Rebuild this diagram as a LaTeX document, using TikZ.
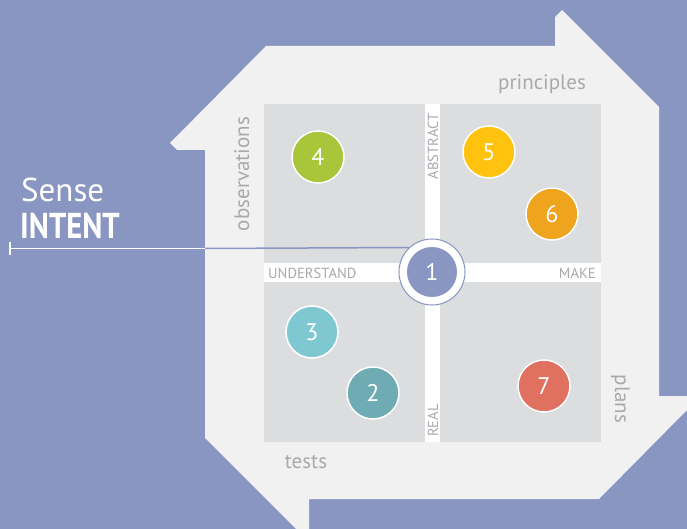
\documentclass[tikz,border=0pt]{standalone}
\usepackage{fontspec}
\setmainfont{PT Sans}
\newfontfamily\condfont[FakeStretch=0.85]{PT Sans}
\definecolor{bgblue}{HTML}{8A96C2}
\definecolor{lightbg}{HTML}{F1F1F1}
\definecolor{panel}{HTML}{DCDDDF}
\definecolor{txtgray}{HTML}{A7A9AC}
\definecolor{cfour}{HTML}{A9C539}
\definecolor{cfive}{HTML}{FFC20F}
\definecolor{csix}{HTML}{EEA41D}
\definecolor{cthree}{HTML}{80C8D1}
\definecolor{ctwo}{HTML}{6FABB3}
\definecolor{cseven}{HTML}{E07161}
\definecolor{cone}{HTML}{8A96C2}
\tikzset{
  num/.style={circle, draw=white, line width=1.5bp, minimum size=52bp, inner sep=0pt,
    text=white, font=\fontsize{24bp}{24bp}\selectfont},
  axislabel/.style={text=txtgray, inner sep=0pt, font=\fontsize{14.6bp}{14.6bp}\selectfont},
  sidelabel/.style={text=txtgray, inner sep=0pt, font=\fontsize{21bp}{21bp}\selectfont},
}
\begin{document}
\begin{tikzpicture}[x=1bp, y=-1bp]
\useasboundingbox (0,0) rectangle (687,529);
\fill[bgblue] (0,0) rectangle (687,529);
% outline arrow frame
\fill[lightbg] (296,529) -- (205,438) -- (205,150) -- (177,150) -- (170,143) -- (266,46)
  -- (555,46) -- (555,17) -- (562,10) -- (659,107) -- (659,396) -- (687,396) -- (687,410)
  -- (599,499) -- (309,499) -- (309,529) -- cycle;
% white cross and panels
\fill[white] (264,104) rectangle (601,442);
\fill[panel] (264,104) rectangle (425,263);
\fill[panel] (440,104) rectangle (601,263);
\fill[panel] (264,282) rectangle (425,442);
\fill[panel] (440,282) rectangle (601,442);
% axis labels
\node[axislabel, anchor=base west] (understand) at (268,278) {UNDERSTAND};
\node[axislabel, anchor=base east] (make) at (596,278) {MAKE};
\node[axislabel, rotate=90, anchor=base] (abstract) at (438,146.5) {ABSTRACT};
\node[axislabel, rotate=90, anchor=base west] (real) at (438,437) {REAL};
% side labels
\node[sidelabel, anchor=base] (principles) at (542,90) {principles};
\node[sidelabel, rotate=90, anchor=base] (observations) at (249,174) {observations};
\node[sidelabel, anchor=base] (tests) at (306,468) {tests};
\node[sidelabel, rotate=-90, anchor=base] (plans) at (615,399) {plans};
% circles
\node[num, fill=cfour] (n4) at (318,157) {4};
\node[num, fill=cfive] (n5) at (489,152) {5};
\node[num, fill=csix] (n6) at (552,214) {6};
\node[num, fill=cthree] (n3) at (312,332) {3};
\node[num, fill=ctwo] (n2) at (373,393) {2};
\node[num, fill=cseven] (n7) at (544,386) {7};
\node[circle, draw=cone, line width=1bp, fill=white, minimum size=66bp, inner sep=0pt] (ring) at (432,272) {};
\node[num, fill=cone, minimum size=50bp, draw=none] (n1) at (432,272) {1};
% Sense INTENT
\node[anchor=base west, text=white, inner sep=0pt, font=\fontsize{33bp}{33bp}\selectfont] (sense) at (21,202) {Sense};
\node[anchor=base west, text=white, inner sep=0pt, font=\condfont\bfseries\fontsize{36bp}{36bp}\selectfont] (intent) at (20,238.5) {INTENT};
\coordinate (lstart) at (10,248.5);
\coordinate (lmid) at (205,248.5);
\coordinate (ltop) at (10,242);
\coordinate (lbot) at (10,255);
\draw[white, line width=1.5bp] (ltop) -- (lbot);
\draw[white, line width=1.5bp] (lstart) -- (lmid);
\draw[cone, line width=1.5bp] (lmid) -- (ring.133);
\end{tikzpicture}
\end{document}
